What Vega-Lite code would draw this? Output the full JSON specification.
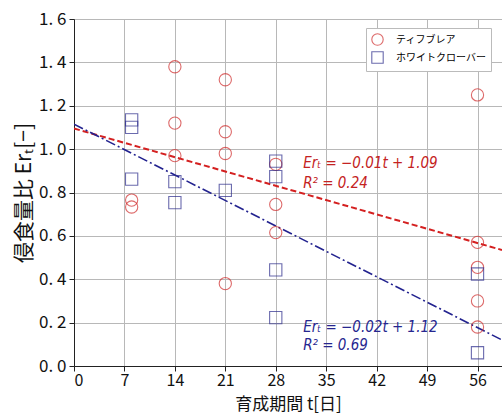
{
  "$schema": "https://vega.github.io/schema/vega-lite/v6.json",
  "width": 428,
  "height": 347,
  "autosize": "none",
  "padding": {"left": 74, "top": 19, "right": 0, "bottom": 51},
  "background": "white",
  "config": {
    "font": "Noto Sans CJK JP",
    "view": {"stroke": "#999999", "strokeWidth": 1},
    "axis": {"gridColor": "#b8b8b8", "gridWidth": 1, "domainColor": "#222222", "tickColor": "#222222", "labelColor": "#111111", "titleColor": "#111111", "labelFont": "Noto Sans CJK JP", "titleFont": "Noto Sans CJK JP"}
  },
  "datasets": {
    "pts": [
      {"t": 8, "er": 0.765, "species": "ティフブレア"},
      {"t": 8, "er": 0.733, "species": "ティフブレア"},
      {"t": 14, "er": 1.38, "species": "ティフブレア"},
      {"t": 14, "er": 1.12, "species": "ティフブレア"},
      {"t": 14, "er": 0.97, "species": "ティフブレア"},
      {"t": 21, "er": 1.32, "species": "ティフブレア"},
      {"t": 21, "er": 1.08, "species": "ティフブレア"},
      {"t": 21, "er": 0.98, "species": "ティフブレア"},
      {"t": 21, "er": 0.38, "species": "ティフブレア"},
      {"t": 28, "er": 0.93, "species": "ティフブレア"},
      {"t": 28, "er": 0.745, "species": "ティフブレア"},
      {"t": 28, "er": 0.615, "species": "ティフブレア"},
      {"t": 56, "er": 1.25, "species": "ティフブレア"},
      {"t": 56, "er": 0.57, "species": "ティフブレア"},
      {"t": 56, "er": 0.455, "species": "ティフブレア"},
      {"t": 56, "er": 0.30, "species": "ティフブレア"},
      {"t": 56, "er": 0.18, "species": "ティフブレア"},
      {"t": 8, "er": 1.135, "species": "ホワイトクローバー"},
      {"t": 8, "er": 1.10, "species": "ホワイトクローバー"},
      {"t": 8, "er": 0.862, "species": "ホワイトクローバー"},
      {"t": 14, "er": 0.85, "species": "ホワイトクローバー"},
      {"t": 14, "er": 0.753, "species": "ホワイトクローバー"},
      {"t": 21, "er": 0.81, "species": "ホワイトクローバー"},
      {"t": 28, "er": 0.945, "species": "ホワイトクローバー"},
      {"t": 28, "er": 0.873, "species": "ホワイトクローバー"},
      {"t": 28, "er": 0.443, "species": "ホワイトクローバー"},
      {"t": 28, "er": 0.223, "species": "ホワイトクローバー"},
      {"t": 56, "er": 0.424, "species": "ホワイトクローバー"},
      {"t": 56, "er": 0.061, "species": "ホワイトクローバー"}
    ],
    "fits": [
      {"t": 0, "er": 1.095, "fit": "red"},
      {"t": 59.4, "er": 0.535, "fit": "red"},
      {"t": 0, "er": 1.115, "fit": "blue"},
      {"t": 59.4, "er": 0.12, "fit": "blue"}
    ],
    "labels": [
      {"t": 31.8, "er": 0.935, "text": "Erₜ = −0.01t + 1.09", "fit": "red"},
      {"t": 31.8, "er": 0.845, "text": "R² = 0.24", "fit": "red"},
      {"t": 31.8, "er": 0.18, "text": "Erₜ = −0.02t + 1.12", "fit": "blue"},
      {"t": 31.8, "er": 0.097, "text": "R² = 0.69", "fit": "blue"}
    ]
  },
  "layer": [
    {
      "data": {"name": "fits"},
      "transform": [{"filter": "datum.fit == 'red'"}],
      "mark": {"type": "line", "color": "#d42020", "strokeWidth": 2, "strokeDash": [6, 3], "clip": true},
      "encoding": {
        "x": {"field": "t", "type": "quantitative", "scale": {"domain": [0, 59.4], "nice": false, "zero": false},
          "axis": {"values": [0, 7, 14, 21, 28, 35, 42, 49, 56], "title": "育成期間  t[日]", "titleFontSize": 17, "titleFontWeight": "normal", "labelFontSize": 16, "labelPadding": 1, "titlePadding": 8, "titleBaseline": "top", "tickSize": 5}},
        "y": {"field": "er", "type": "quantitative", "scale": {"domain": [0, 1.6], "nice": false},
          "axis": {"values": [0, 0.2, 0.4, 0.6, 0.8, 1.0, 1.2, 1.4, 1.6], "labelExpr": "replace(format(datum.value, '.1f'), '.', '. ')", "title": "侵食量比  Erₜ[−]", "titleFontSize": 21, "titleFontWeight": "normal", "labelFontSize": 17, "labelPadding": 3, "titlePadding": 4, "tickSize": 5}},
        "order": {"field": "t", "type": "quantitative"}
      }
    },
    {
      "data": {"name": "fits"},
      "transform": [{"filter": "datum.fit == 'blue'"}],
      "mark": {"type": "line", "color": "#22228f", "strokeWidth": 1.6, "strokeDash": [10, 3, 2, 3], "clip": true},
      "encoding": {
        "x": {"field": "t", "type": "quantitative"},
        "y": {"field": "er", "type": "quantitative"},
        "order": {"field": "t", "type": "quantitative"}
      }
    },
    {
      "data": {"name": "pts"},
      "mark": {"type": "point", "filled": false, "strokeWidth": 1.1, "size": 150},
      "encoding": {
        "x": {"field": "t", "type": "quantitative"},
        "y": {"field": "er", "type": "quantitative"},
        "color": {"field": "species", "type": "nominal",
          "scale": {"domain": ["ティフブレア", "ホワイトクローバー"], "range": ["#d02c2c", "#2c2c8c"]},
          "legend": {"title": null, "orient": "none", "legendX": 292, "legendY": 9, "fillColor": "white", "strokeColor": "#bbbbbb", "padding": 5, "labelFontSize": 10, "labelFont": "Noto Sans CJK JP", "symbolSize": 130, "symbolStrokeWidth": 1.1, "rowPadding": 1, "labelOffset": 12}},
        "shape": {"field": "species", "type": "nominal",
          "scale": {"domain": ["ティフブレア", "ホワイトクローバー"], "range": ["circle", "square"]}}
      }
    },
    {
      "data": {"name": "labels"},
      "transform": [{"filter": "datum.fit == 'red'"}],
      "mark": {"type": "text", "align": "left", "baseline": "middle", "fontSize": 15, "fontStyle": "italic", "font": "DejaVu Sans Condensed", "color": "#c42222"},
      "encoding": {
        "x": {"field": "t", "type": "quantitative"},
        "y": {"field": "er", "type": "quantitative"},
        "text": {"field": "text"}
      }
    },
    {
      "data": {"name": "labels"},
      "transform": [{"filter": "datum.fit == 'blue'"}],
      "mark": {"type": "text", "align": "left", "baseline": "middle", "fontSize": 15, "fontStyle": "italic", "font": "DejaVu Sans Condensed", "color": "#26268f"},
      "encoding": {
        "x": {"field": "t", "type": "quantitative"},
        "y": {"field": "er", "type": "quantitative"},
        "text": {"field": "text"}
      }
    }
  ]
}
